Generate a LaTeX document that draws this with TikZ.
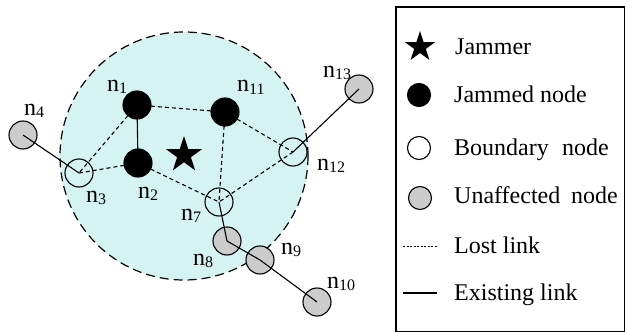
\documentclass[tikz,border=0pt]{standalone}
\usepackage{fontspec}
\setmainfont{Liberation Serif}
\usetikzlibrary{shapes.geometric}
\definecolor{zonefill}{RGB}{213,244,241}
\definecolor{unafill}{RGB}{204,204,204}
\newcommand{\nlab}[1]{n\raisebox{-0.22ex}{\fontsize{16}{16}\selectfont #1}}
\begin{document}
\begin{tikzpicture}[x=1pt,y=-1pt,
  jammed/.style={circle,draw=black,fill=black,minimum size=28pt,inner sep=0,line width=1.1pt},
  boundary/.style={circle,draw=black,minimum size=28pt,inner sep=0,line width=1.1pt},
  unaff/.style={circle,draw=black,fill=unafill,minimum size=28pt,inner sep=0,line width=1.1pt},
  lost/.style={line width=1.1pt,dash pattern=on 4pt off 3pt},
  exist/.style={line width=1.1pt},
  lab/.style={anchor=base west,inner sep=0,font=\fontsize{24}{24}\selectfont},
  legtext/.style={anchor=base west,inner sep=0,font=\fontsize{24}{24}\selectfont},
  jstar/.style={star,star points=5,star point ratio=2.618,fill=black,inner sep=0}
]
\useasboundingbox (0,0) rectangle (625,332);

% jamming zone
\node (zone) [circle,minimum size=248pt,inner sep=0,fill=zonefill,draw=black,
  line width=1.2pt,dash pattern=on 9pt off 5pt] at (184,156) {};

% nodes
\node[jammed] (n1) at (137,105) {};
\node[jammed] (n2) at (138,163) {};
\node[jammed] (n11) at (225,112) {};
\node[boundary] (n3) at (79,173) {};
\node[boundary] (n7) at (219,202) {};
\node[boundary] (n12) at (293,152) {};
\node[unaff] (n4) at (23,135) {};
\node[unaff] (n8) at (227,241) {};
\node[unaff] (n9) at (260,260) {};
\node[unaff] (n10) at (317,302) {};
\node[unaff] (n13) at (359,89) {};
\node[jstar,minimum size=38pt] (jam) at (184,155) {};

% links
\draw[exist] (n1.center) -- (n2.center);
\draw[exist] (n4.center) -- (n3.center);
\draw[exist] (n13.center) -- (n12.center);
\draw[exist] (n7.center) -- (n8.center) -- (n9.center) -- (n10.center);
\draw[lost] (n1.center) -- (n11.center);
\draw[lost] (n1.center) -- (n3.center);
\draw[lost] (n2.center) -- (n3.center);
\draw[lost] (n2.center) -- (n7.center);
\draw[lost] (n11.center) -- (n7.center);
\draw[lost] (n11.center) -- (n12.center);
\draw[lost] (n12.center) -- (n7.center);

% labels
\node[lab] (l1) at (107,91) {\nlab{1}};
\node[lab] (l11) at (237,92) {\nlab{11}};
\node[lab] (l4) at (24,115) {\nlab{4}};
\node[lab] (l3) at (86,202) {\nlab{3}};
\node[lab] (l2) at (138,198) {\nlab{2}};
\node[lab] (l7) at (181,220) {\nlab{7}};
\node[lab] (l8) at (193,265) {\nlab{8}};
\node[lab] (l9) at (281,254) {\nlab{9}};
\node[lab] (l12) at (317,170) {\nlab{12}};
\node[lab] (l13) at (323,77) {\nlab{13}};
\node[lab] (l10) at (327,288) {\nlab{10}};

% legend
\draw[line width=1.2pt] (396,7) rectangle (624.4,331.4);
\node[jstar,minimum size=32pt] (ljam) at (420,47) {};
\node[jammed,minimum size=23pt] (ljn) at (419,95) {};
\node[boundary,minimum size=23pt] (lbn) at (419,148) {};
\node[unaff,minimum size=23pt] (lun) at (420,198) {};
\coordinate (lla) at (403,246);
\coordinate (llb) at (437,246);
\coordinate (lea) at (403,293);
\coordinate (leb) at (437,293);
\draw[line width=1pt,dash pattern=on 2pt off 1.5pt] (lla) -- (llb);
\draw[exist] (lea) -- (leb);
\node[legtext] (t1) at (455,54) {Jammer};
\node[legtext] (t2) at (454,102) {Jammed node};
\node[legtext] (t3) at (454,155) {Boundary\hspace{0.55em}node};
\node[legtext] (t4) at (454,203) {Unaffected\hspace{0.45em}node};
\node[legtext] (t5) at (454,253) {Lost link};
\node[legtext] (t6) at (454,300) {Existing link};
\end{tikzpicture}
\end{document}
